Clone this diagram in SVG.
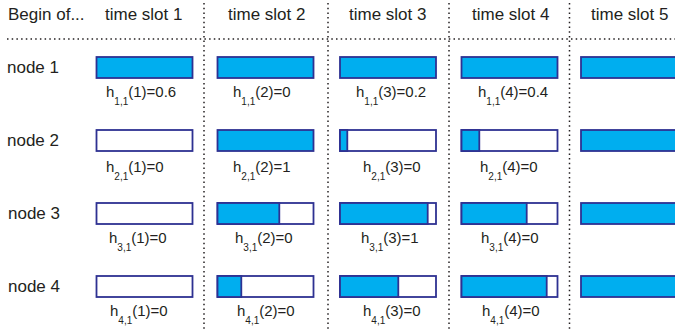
<svg xmlns="http://www.w3.org/2000/svg" width="675" height="332" viewBox="0 0 675 332">
<style>
text{font-family:"Liberation Sans",Arial,sans-serif;fill:#231f20}
.h{font-size:17px}
.lb{font-size:15px}
.sub{font-size:10px}
.bar{fill:#fff;stroke:#2e3192;stroke-width:1.8}
.fill{fill:#00aeef;stroke:#2e3192;stroke-width:1.8}
.dot{stroke:#231f20;stroke-width:1.5;stroke-dasharray:1.5 3.2;fill:none}
</style>
<rect width="675" height="332" fill="#fff"/>
<g id="grid">
<line class="dot" x1="7" y1="39" x2="675" y2="39"/>
<line class="dot" x1="204" y1="3" x2="204" y2="332"/>
<line class="dot" x1="328" y1="3" x2="328" y2="332"/>
<line class="dot" x1="449" y1="3" x2="449" y2="332"/>
<line class="dot" x1="569.5" y1="3" x2="569.5" y2="332"/>
</g>
<g id="header">
<text class="h" x="8" y="20">Begin of...</text>
<text class="h" x="105" y="20">time slot 1</text>
<text class="h" x="228" y="20">time slot 2</text>
<text class="h" x="349" y="20">time slot 3</text>
<text class="h" x="472" y="20">time slot 4</text>
<text class="h" x="591" y="20">time slot 5</text>
</g>
<g id="node1">
<text class="h" x="7" y="72.5">node 1</text>
<rect class="fill" x="96.5" y="57" width="96" height="21"/>
<rect class="fill" x="217.5" y="57" width="96" height="21"/>
<rect class="fill" x="340" y="57" width="96" height="21"/>
<rect class="fill" x="461.5" y="57" width="96" height="21"/>
<rect class="fill" x="581" y="57" width="100" height="21"/>
<text class="lb" x="106" y="97">h<tspan class="sub" dy="8">1,1</tspan><tspan dy="-8">(1)=0.6</tspan></text>
<text class="lb" x="233" y="97">h<tspan class="sub" dy="8">1,1</tspan><tspan dy="-8">(2)=0</tspan></text>
<text class="lb" x="356" y="97">h<tspan class="sub" dy="8">1,1</tspan><tspan dy="-8">(3)=0.2</tspan></text>
<text class="lb" x="478" y="97">h<tspan class="sub" dy="8">1,1</tspan><tspan dy="-8">(4)=0.4</tspan></text>
</g>
<g id="node2">
<text class="h" x="7" y="145.5">node 2</text>
<rect class="bar" x="96.5" y="130" width="96" height="21"/>
<rect class="fill" x="217.5" y="130" width="96" height="21"/>
<rect class="bar" x="340" y="130" width="96" height="21"/>
<rect class="fill" x="340" y="130" width="7.3" height="21"/>
<rect class="bar" x="461.5" y="130" width="96" height="21"/>
<rect class="fill" x="461.5" y="130" width="17.8" height="21"/>
<rect class="fill" x="581" y="130" width="100" height="21"/>
<text class="lb" x="106" y="172">h<tspan class="sub" dy="8">2,1</tspan><tspan dy="-8">(1)=0</tspan></text>
<text class="lb" x="233" y="172">h<tspan class="sub" dy="8">2,1</tspan><tspan dy="-8">(2)=1</tspan></text>
<text class="lb" x="363" y="172">h<tspan class="sub" dy="8">2,1</tspan><tspan dy="-8">(3)=0</tspan></text>
<text class="lb" x="480" y="172">h<tspan class="sub" dy="8">2,1</tspan><tspan dy="-8">(4)=0</tspan></text>
</g>
<g id="node3">
<text class="h" x="8" y="219">node 3</text>
<rect class="bar" x="96.5" y="203" width="96" height="21"/>
<rect class="bar" x="217.5" y="203" width="96" height="21"/>
<rect class="fill" x="217.5" y="203" width="61.8" height="21"/>
<rect class="bar" x="340" y="203" width="96" height="21"/>
<rect class="fill" x="340" y="203" width="87.7" height="21"/>
<rect class="bar" x="461.5" y="203" width="96" height="21"/>
<rect class="fill" x="461.5" y="203" width="65.2" height="21"/>
<rect class="fill" x="581" y="203" width="100" height="21"/>
<text class="lb" x="109" y="243">h<tspan class="sub" dy="8">3,1</tspan><tspan dy="-8">(1)=0</tspan></text>
<text class="lb" x="235" y="243">h<tspan class="sub" dy="8">3,1</tspan><tspan dy="-8">(2)=0</tspan></text>
<text class="lb" x="361" y="243">h<tspan class="sub" dy="8">3,1</tspan><tspan dy="-8">(3)=1</tspan></text>
<text class="lb" x="481" y="243">h<tspan class="sub" dy="8">3,1</tspan><tspan dy="-8">(4)=0</tspan></text>
</g>
<g id="node4">
<text class="h" x="8" y="292">node 4</text>
<rect class="bar" x="96.5" y="276" width="96" height="21"/>
<rect class="bar" x="217.5" y="276" width="96" height="21"/>
<rect class="fill" x="217.5" y="276" width="23.8" height="21"/>
<rect class="bar" x="340" y="276" width="96" height="21"/>
<rect class="fill" x="340" y="276" width="58.3" height="21"/>
<rect class="bar" x="461.5" y="276" width="96" height="21"/>
<rect class="fill" x="461.5" y="276" width="85.2" height="21"/>
<rect class="fill" x="581" y="276" width="100" height="21"/>
<text class="lb" x="110" y="316">h<tspan class="sub" dy="8">4,1</tspan><tspan dy="-8">(1)=0</tspan></text>
<text class="lb" x="237" y="316">h<tspan class="sub" dy="8">4,1</tspan><tspan dy="-8">(2)=0</tspan></text>
<text class="lb" x="363" y="316">h<tspan class="sub" dy="8">4,1</tspan><tspan dy="-8">(3)=0</tspan></text>
<text class="lb" x="482" y="316">h<tspan class="sub" dy="8">4,1</tspan><tspan dy="-8">(4)=0</tspan></text>
</g>
</svg>
